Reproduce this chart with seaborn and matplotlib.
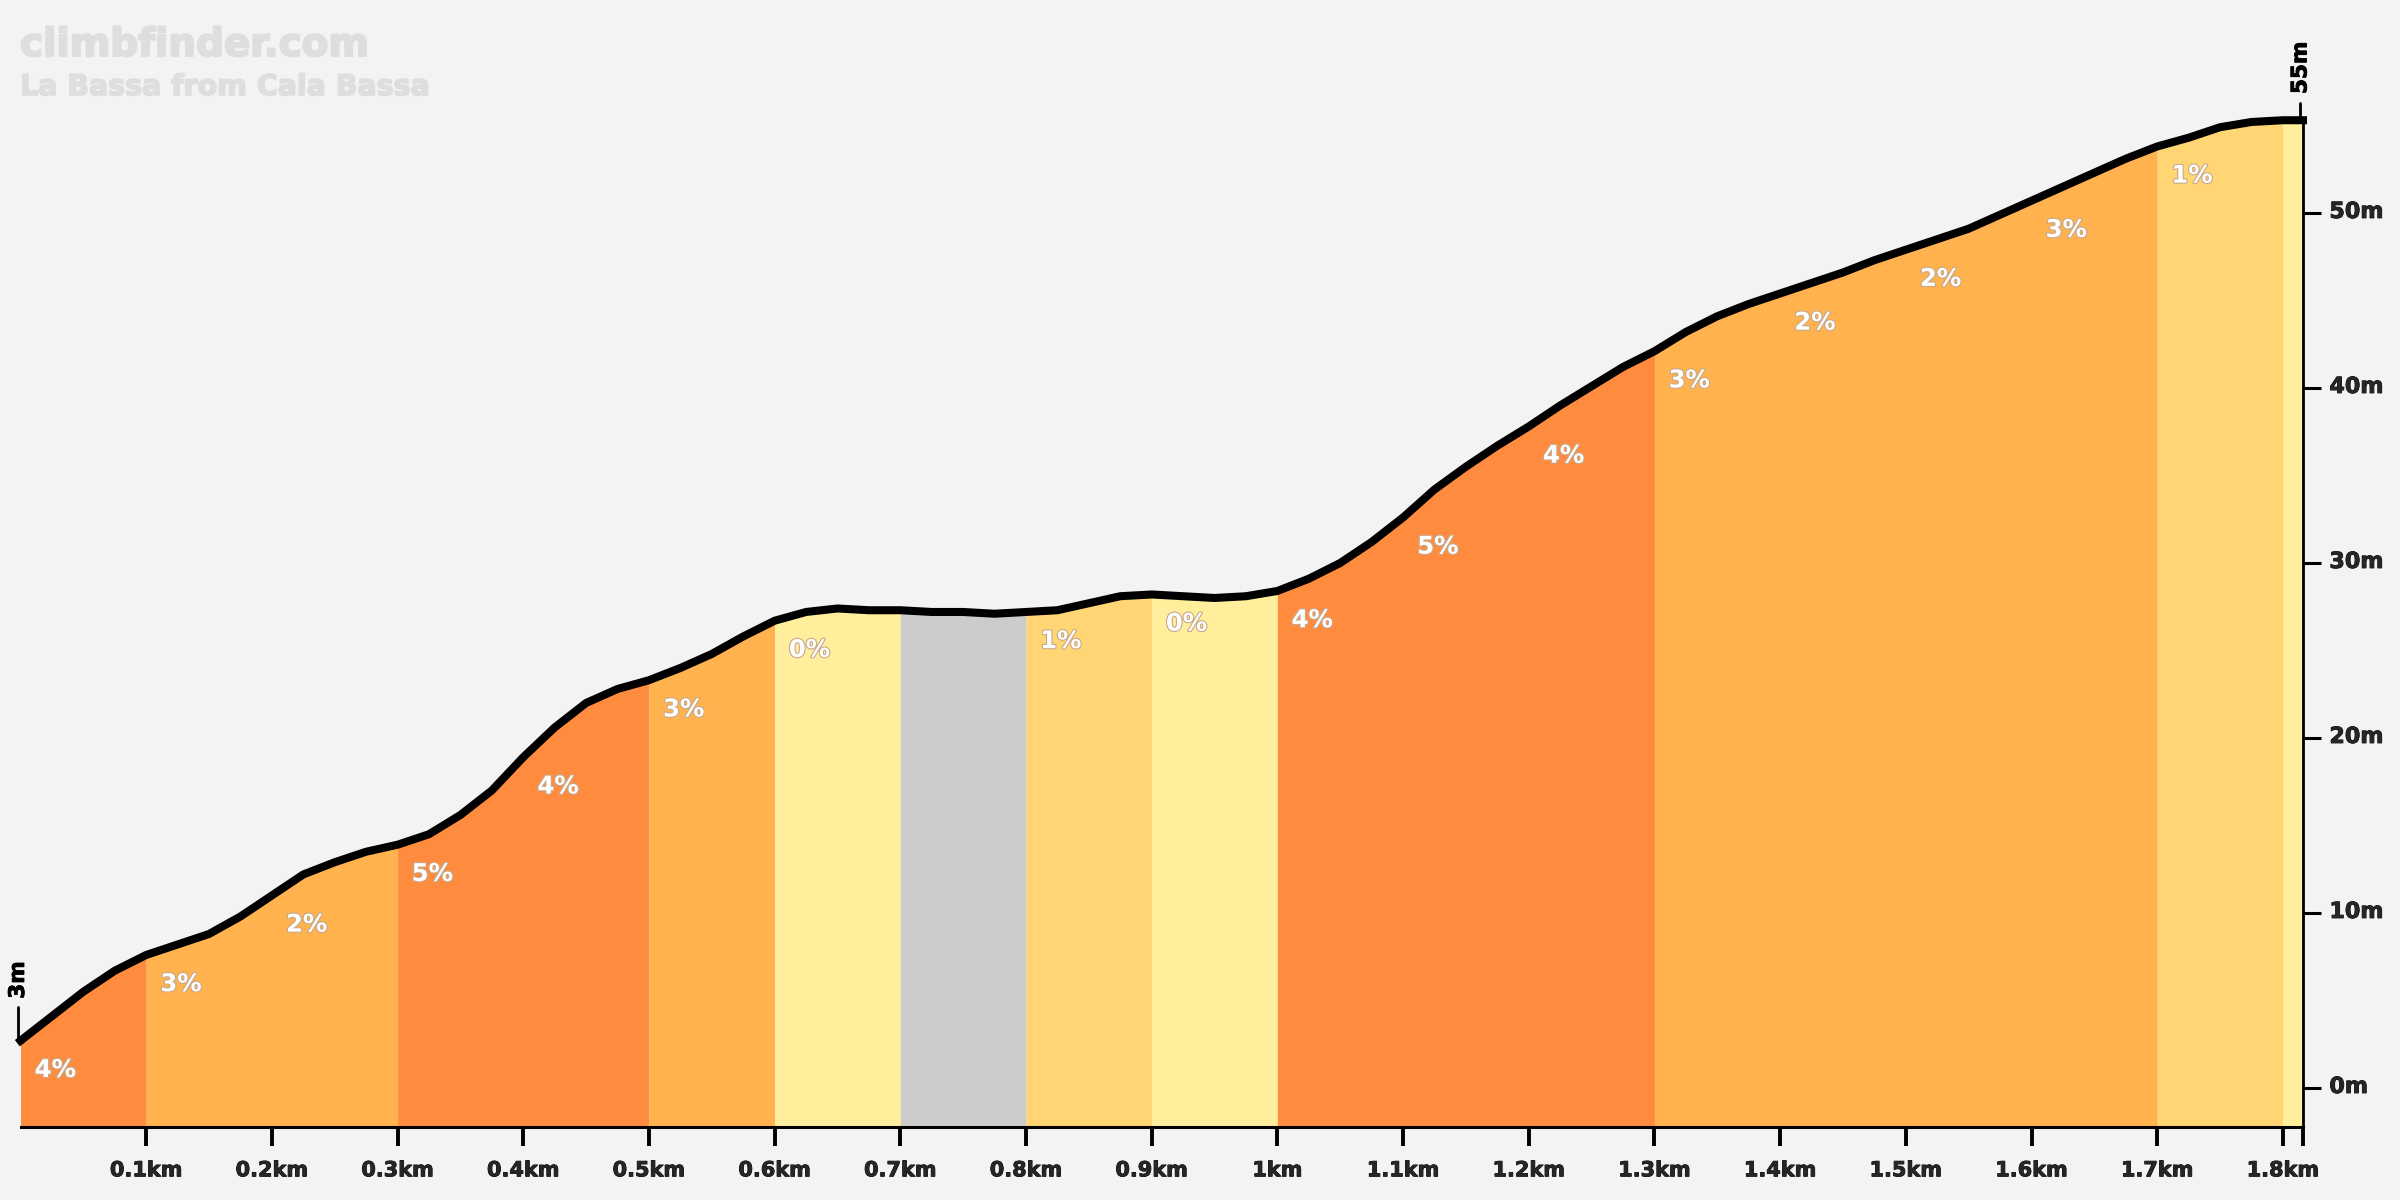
import matplotlib
matplotlib.use('Agg')
import matplotlib.pyplot as plt
import matplotlib.patheffects as pe
from matplotlib.transforms import ScaledTranslation
import numpy as np
import pandas as pd
import seaborn as sns

BG = '#f3f3f3'

# elevation profile
distance_km = [0, 0.025, 0.05, 0.075, 0.1, 0.125, 0.15, 0.175, 0.2, 0.225, 0.25, 0.275, 0.3,
               0.325, 0.35, 0.375, 0.4, 0.425, 0.45, 0.475, 0.5, 0.525, 0.55, 0.575, 0.6,
               0.625, 0.65, 0.675, 0.7, 0.725, 0.75, 0.775, 0.8, 0.825, 0.875, 0.9,
               0.925, 0.95, 0.975, 1.0, 1.025, 1.05, 1.075, 1.1, 1.125, 1.15, 1.175, 1.2,
               1.225, 1.25, 1.275, 1.3, 1.325, 1.35, 1.375, 1.4, 1.425, 1.45, 1.475, 1.5,
               1.525, 1.55, 1.575, 1.6, 1.625, 1.65, 1.675, 1.7, 1.725, 1.75, 1.775, 1.8, 1.816]
elevation_m = [2.7, 4.1, 5.5, 6.7, 7.6, 8.2, 8.8, 9.8, 11.0, 12.2, 12.9, 13.5, 13.9,
               14.5, 15.6, 17.0, 18.9, 20.6, 22.0, 22.8, 23.3, 24.0, 24.8, 25.8, 26.7,
               27.2, 27.4, 27.3, 27.3, 27.2, 27.2, 27.1, 27.2, 27.3, 28.1, 28.2,
               28.1, 28.0, 28.1, 28.4, 29.1, 30.0, 31.2, 32.6, 34.2, 35.5, 36.7, 37.8,
               39.0, 40.1, 41.2, 42.1, 43.2, 44.1, 44.8, 45.4, 46.0, 46.6, 47.3, 47.9,
               48.5, 49.1, 49.9, 50.7, 51.5, 52.3, 53.1, 53.8, 54.3, 54.9, 55.2, 55.3, 55.3]

seg_start = [0, 0.1, 0.2, 0.3, 0.4, 0.5, 0.6, 0.7, 0.8, 0.9, 1.0, 1.1, 1.2, 1.3, 1.4, 1.5, 1.6, 1.7, 1.8]
seg_end = [0.1, 0.2, 0.3, 0.4, 0.5, 0.6, 0.7, 0.8, 0.9, 1.0, 1.1, 1.2, 1.3, 1.4, 1.5, 1.6, 1.7, 1.8, 1.816]
seg_label = ['4%', '3%', '2%', '5%', '4%', '3%', '0%', '', '1%', '0%', '4%', '5%', '4%', '3%', '2%', '2%', '3%', '1%', '']
seg_color = ['#ff8c3e', '#ffb24d', '#ffb24d', '#ff8c3e', '#ff8c3e', '#ffb24d', '#ffee9c', '#cccccc', '#ffd673',
             '#ffee9c', '#ff8c3e', '#ff8c3e', '#ff8c3e', '#ffb24d', '#ffb24d', '#ffb24d', '#ffb24d', '#ffd673', '#ffee9c']

x_ticks = [0.1, 0.2, 0.3, 0.4, 0.5, 0.6, 0.7, 0.8, 0.9, 1.0, 1.1, 1.2, 1.3, 1.4, 1.5, 1.6, 1.7, 1.8, 1.816]
x_tick_labels = ['0.1km', '0.2km', '0.3km', '0.4km', '0.5km', '0.6km', '0.7km', '0.8km', '0.9km', '1km',
                 '1.1km', '1.2km', '1.3km', '1.4km', '1.5km', '1.6km', '1.7km', '1.8km', '']
y_ticks = [0, 10, 20, 30, 40, 50]
y_tick_labels = ['0m', '10m', '20m', '30m', '40m', '50m']

df = pd.DataFrame({'km': distance_km, 'm': elevation_m})

sns.set_style('white')
plt.rcParams['font.family'] = ['DejaVu Sans']

fig = plt.figure(figsize=(24, 12), dpi=100, facecolor=BG)
ax = fig.add_axes([20.5 / 2400, 73 / 1200, 2282.5 / 2400, 1127 / 1200], facecolor=BG)

# gradient blocks under the line, neighbours of one colour merged so no seams show
segs = pd.DataFrame({'start': seg_start, 'end': seg_end, 'color': seg_color})
runs = (segs.color != segs.color.shift()).cumsum()
for _, run in segs.groupby(runs):
    part = df[(df.km >= run.start.min()) & (df.km <= run.end.max())]
    ax.fill_between(part.km, -2.23, part.m, color=run.color.iloc[0], lw=0, zorder=1)

sns.lineplot(data=df, x='km', y='m', color='black', lw=5.8, ax=ax, zorder=3, estimator=None,
             solid_capstyle='projecting', clip_on=False)

heavy = [pe.withStroke(linewidth=0.6, foreground='black')]

# percentage labels just under the line at the start of each block
for a, lab in zip(seg_start, seg_label):
    if lab == '':
        continue
    h = np.interp(a, distance_km, elevation_m)
    ax.annotate(lab, (a, h), xytext=(25, -21), textcoords='offset points', ha='center', va='center',
                color='white', fontsize=17.5, fontweight='bold', zorder=4,
                path_effects=[pe.withStroke(linewidth=1.6, foreground='#c9a98a')])

ax.set_xlim(0, 1.816)
ax.set_ylim(-2.23, 62.17)
ax.set_xlabel('')
ax.set_ylabel('')
ax.set_xticks(x_ticks)
ax.set_xticklabels(x_tick_labels, fontsize=15, fontweight='bold', path_effects=heavy)
ax.yaxis.tick_right()
ax.set_yticks(y_ticks)
ax.set_yticklabels(y_tick_labels, fontsize=16, fontweight='bold', path_effects=heavy)
ax.tick_params(axis='x', length=14, width=2.8, color='black', pad=10, bottom=True)
ax.tick_params(axis='y', length=13, width=2.2, color='black', pad=6, right=True, left=False)
ax.yaxis.get_major_ticks()[0].tick2line.set_color('#b8b8b8')

# y labels sit a little above their ticks
shift = ScaledTranslation(0, 3 / 100, fig.dpi_scale_trans)
for lab in ax.get_yticklabels():
    lab.set_transform(lab.get_transform() + shift)

for s in ['top', 'left']:
    ax.spines[s].set_visible(False)
ax.spines['bottom'].set_linewidth(2.2)
ax.spines['bottom'].set_color('black')
ax.spines['right'].set_linewidth(2.0)
ax.spines['right'].set_color('black')
ax.spines['right'].set_bounds(-2.23, elevation_m[-1])

# start and finish height marks
ax.plot([-0.002, -0.002], [elevation_m[0], elevation_m[0] + 1.9], color='black', lw=2, clip_on=False, zorder=2)
ax.text(-0.002, elevation_m[0] + 2.4, '3m', rotation=90, ha='center', va='bottom', fontsize=15.5,
        fontweight='bold', color='black', path_effects=heavy)
ax.plot([1.814, 1.814], [elevation_m[-1], elevation_m[-1] + 1.0], color='black', lw=2, clip_on=False, zorder=2)
ax.text(1.814, elevation_m[-1] + 1.5, '55m', rotation=90, ha='center', va='bottom', fontsize=15.5,
        fontweight='bold', color='black', path_effects=heavy)

fig.text(20 / 2400, 1 - 45 / 1200, 'climbfinder.com', color='#dedede', fontsize=28, fontweight='bold',
         va='center', ha='left', path_effects=[pe.withStroke(linewidth=1.5, foreground='#dedede')])
fig.text(20 / 2400, 1 - 87 / 1200, 'La Bassa from Cala Bassa', color='#dedede', fontsize=20.5, fontweight='bold',
         va='center', ha='left', path_effects=[pe.withStroke(linewidth=1.2, foreground='#dedede')])

fig.savefig('out.png', dpi=100, facecolor=BG)
